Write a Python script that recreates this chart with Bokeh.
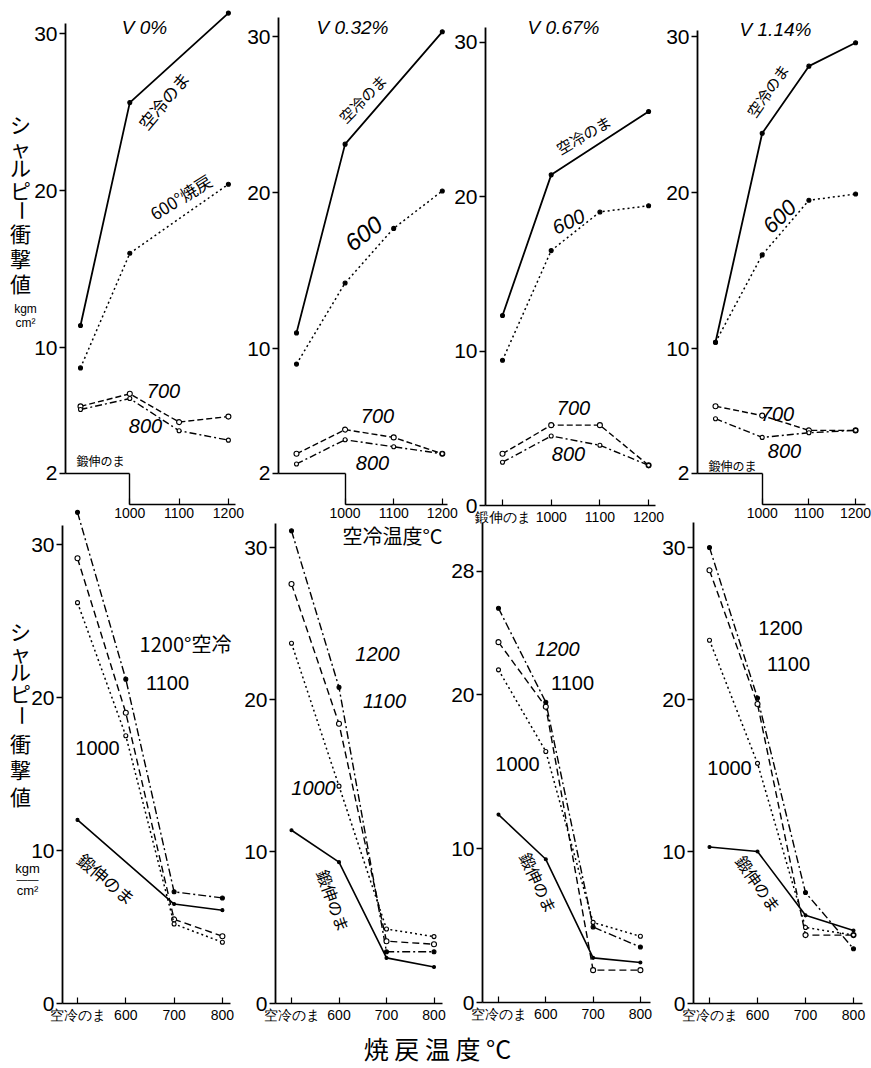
from bokeh.plotting import figure
from bokeh.models import Range1d, LinearAxis, FixedTicker, Label
from bokeh.embed import file_html
from bokeh.resources import INLINE

# ---------------- data ----------------
top_cats = ["鍛伸のま", "1000", "1100", "1200"]
bot_cats = ["空冷のま", "600", "700", "800"]
titles = ["V 0%", "V 0.32%", "V 0.67%", "V 1.14%"]

# upper row: Charpy value vs air-cooling temperature (one list per V content)
top_air = [[11.4, 25.6, None, 31.3], [11.0, 23.1, None, 30.3],
           [12.3, 21.4, None, 25.5], [10.4, 23.8, 28.1, 29.6]]
top_t600 = [[8.7, 16.0, None, 20.4], [9.0, 14.2, 17.7, 20.1],
            [9.4, 16.5, 19.0, 19.4], [10.4, 16.0, 19.5, 19.9]]
top_t700 = [[6.25, 7.05, 5.25, 5.6], [3.25, 4.8, 4.3, 3.25],
            [3.35, 5.2, 5.2, 2.6], [6.3, 5.7, 4.75, 4.75]]
top_t800 = [[6.05, 6.75, 4.7, 4.1], [2.6, 4.15, 3.7, 3.25],
            [2.8, 4.5, 3.9, 2.6], [5.5, 4.3, 4.6, 4.75]]

# lower row: Charpy value vs tempering temperature
bot_forged = [[12.0, None, 6.5, 6.1], [11.4, 9.3, 3.0, 2.4],
              [12.2, 9.3, 2.9, 2.6], [10.3, 10.0, 5.8, 4.8]]
bot_c1200 = [[32.1, 21.2, 7.3, 6.9], [31.1, 20.8, 3.4, 3.4],
             [25.6, 19.5, 4.9, 3.6], [30.0, 20.1, 7.3, 3.6]]
bot_c1100 = [[29.1, 19.0, 5.5, 4.4], [27.6, 18.4, 4.1, 3.9],
             [23.4, 19.2, 2.1, 2.1], [28.5, 19.7, 4.5, 4.5]]
bot_c1000 = [[26.2, 17.5, 5.2, 4.0], [23.7, 14.3, 4.9, 4.4],
             [21.6, 16.3, 5.2, 4.3], [23.9, 15.8, 5.0, 4.5]]

top_yticks = [[2, 10, 20, 30], [2, 10, 20, 30], [0, 10, 20, 30], [2, 10, 20, 30]]
bot_yticks = [[0, 10, 20, 30], [0, 10, 20, 30], [0, 10, 20, 28], [0, 10, 20, 30]]

# ---------------- layout (pixels) ----------------
W, H = 871, 1068
# ax: y-axis x px, x0: first category px, dx: category spacing, y0: value-0 px, dy: px per unit,
# top: axis top px, right: x-axis end px
top_lay = [dict(ax=65, x0=80, dx=49.3, y0=504, dy=15.7, top=23, right=235),
           dict(ax=278, x0=296, dx=48.6, y0=504, dy=15.6, top=17, right=447),
           dict(ax=485, x0=502, dx=48.7, y0=505, dy=15.45, top=27, right=655),
           dict(ax=697, x0=715, dx=46.7, y0=504, dy=15.6, top=30, right=865)]
bot_lay = [dict(ax=62, x0=77, dx=48.3, y0=1003, dy=15.3, top=525, right=230),
           dict(ax=275, x0=291, dx=47.5, y0=1003, dy=15.2, top=523, right=442),
           dict(ax=482, x0=498, dx=47.3, y0=1002, dy=15.4, top=522, right=650),
           dict(ax=693, x0=709, dx=48.0, y0=1003, dy=15.2, top=522, right=862)]

p = figure(width=W, height=H, x_range=Range1d(0, W), y_range=Range1d(H, 0),
           output_backend="svg", toolbar_location=None, min_border=0,
           x_axis_location=None, y_axis_location=None)
p.xgrid.visible = False
p.ygrid.visible = False
p.outline_line_color = None
p.background_fill_color = "white"

xr, yr = {}, {}
for i, L in enumerate(top_lay + bot_lay):
    n = f"p{i}"
    xr[n] = Range1d((0 - L["x0"]) / L["dx"], (W - L["x0"]) / L["dx"])
    yr[n] = Range1d((L["y0"] - H) / L["dy"], L["y0"] / L["dy"])
p.extra_x_ranges = xr
p.extra_y_ranges = yr

NUMF = "Liberation Sans"
JPF = "Noto Sans CJK JP"


def yaxis(n, loc, lo, hi, ticks, width=1.8):
    ax = LinearAxis(x_range_name=n, y_range_name=n, fixed_location=loc, bounds=(lo, hi),
                    ticker=FixedTicker(ticks=ticks, minor_ticks=[]),
                    axis_line_width=width, axis_line_color="black",
                    major_tick_line_color="black", major_tick_line_width=1.3,
                    major_tick_out=6, major_tick_in=0, major_label_standoff=2,
                    major_label_text_font=NUMF, major_label_text_font_size="21px",
                    major_label_text_color="black")
    if not ticks:
        ax.major_label_text_font_size = "0px"
    p.add_layout(ax, "left")


def xaxis(n, loc, lo, hi, ticks, labels, width=1.4):
    ax = LinearAxis(x_range_name=n, y_range_name=n, fixed_location=loc, bounds=(lo, hi),
                    ticker=FixedTicker(ticks=ticks, minor_ticks=[]),
                    axis_line_width=width, axis_line_color="black",
                    major_tick_line_color="black", major_tick_line_width=1.2,
                    major_tick_out=0, major_tick_in=6, major_label_standoff=3,
                    major_label_text_font=NUMF, major_label_text_font_size="14px",
                    major_label_text_color="black",
                    major_label_overrides={t: s for t, s in zip(ticks, labels)})
    if not ticks:
        ax.major_label_text_font_size = "0px"
    p.add_layout(ax, "below")


def series(n, vals, dash, width, marker_fill, size=5):
    xs = [i for i, v in enumerate(vals) if v is not None]
    ys = [v for v in vals if v is not None]
    p.line(xs, ys, x_range_name=n, y_range_name=n, line_color="black",
           line_width=width, line_dash=dash)
    p.scatter(xs, ys, x_range_name=n, y_range_name=n, size=size, line_color="black",
              line_width=1.1, fill_color=marker_fill)


# ---------------- upper row ----------------
for i, L in enumerate(top_lay):
    n = f"p{i}"
    loc = (L["ax"] - L["x0"]) / L["dx"]
    ytop = L["y0"] / L["dy"] - L["top"] / L["dy"]
    xend = (L["right"] - L["x0"]) / L["dx"]
    ticks = top_yticks[i]
    if ticks[0] == 2:
        yaxis(n, loc, 2, ytop, ticks)
        # stepped axis: as-forged block
        xaxis(n, 2, loc, 1, [], [])
        yaxis(n, 1, 0, 2, [], width=1.4)
        xaxis(n, 0, 1, xend, [1, 2, 3], top_cats[1:])
    else:
        yaxis(n, loc, 0, ytop, ticks)
        xaxis(n, 0, loc, xend, [0, 1, 2, 3], top_cats)
    series(n, top_air[i], "solid", 1.8, "black", 4)
    series(n, top_t600[i], "2 3", 1.5, "black", 4)
    series(n, top_t700[i], "6 3", 1.4, "white", 5)
    series(n, top_t800[i], "7 3 2 3", 1.4, "white", 4)

# ---------------- lower row ----------------
for i, L in enumerate(bot_lay):
    n = f"p{i + 4}"
    loc = (L["ax"] - L["x0"]) / L["dx"]
    ytop = L["y0"] / L["dy"] - L["top"] / L["dy"]
    xend = (L["right"] - L["x0"]) / L["dx"]
    yaxis(n, loc, 0, ytop, bot_yticks[i])
    xaxis(n, 0, loc, xend, [0, 1, 2, 3], bot_cats)
    series(n, bot_forged[i], "solid", 1.6, "black", 3)
    series(n, bot_c1200[i], "8 3 2 3", 1.4, "black", 4)
    series(n, bot_c1100[i], "7 4", 1.4, "white", 5)
    series(n, bot_c1000[i], "2 3", 1.5, "white", 4)


# ---------------- texts ----------------
def lab(x, y, text, size=16, angle=0, font=JPF, style="normal", align="center"):
    p.add_layout(Label(x=x, y=y, text=text, text_font=font, text_font_size=f"{size}px",
                       angle=angle, angle_units="deg", text_align=align,
                       text_baseline="middle", text_font_style=style, text_color="black"))


title_pos = [(144, 27), (352, 27), (563, 27), (775, 29)]
for (x, y), t in zip(title_pos, titles):
    lab(x, y, t, 19, font=NUMF, style="italic")

# curve labels, upper row
lab(163, 100, "空冷のま", 17, 50)
lab(180, 196, "600°焼戻", 17, 32)
lab(163, 390, "700", 20, font=NUMF, style="italic")
lab(145, 425, "800", 20, font=NUMF, style="italic")
lab(100, 460, "鍛伸のま", 12)

lab(362, 98, "空冷のま", 15, 45)
lab(363, 233, "600", 24, 38, font=NUMF, style="italic")
lab(377, 415, "700", 20, font=NUMF, style="italic")
lab(372, 462, "800", 20, font=NUMF, style="italic")

lab(583, 134, "空冷のま", 15, 30)
lab(568, 221, "600", 20, 25, font=NUMF, style="italic")
lab(573, 407, "700", 20, font=NUMF, style="italic")
lab(568, 453, "800", 20, font=NUMF, style="italic")

lab(767, 90, "空冷のま", 15, 55)
lab(779, 216, "600", 22, 45, font=NUMF, style="italic")
lab(777, 413, "700", 20, font=NUMF, style="italic")
lab(784, 450, "800", 20, font=NUMF, style="italic")
lab(732, 465, "鍛伸のま", 12)

lab(392, 535, "空冷温度°C", 20)

# curve labels, lower row
lab(185, 643, "1200°空冷", 20)
lab(167, 682, "1100", 20, font=NUMF)
lab(97, 747, "1000", 20, font=NUMF)
lab(106, 878, "鍛伸のま", 17, -40)

lab(377, 653, "1200", 20, font=NUMF, style="italic")
lab(384, 700, "1100", 20, font=NUMF, style="italic")
lab(313, 787, "1000", 20, font=NUMF, style="italic")
lab(333, 900, "鍛伸のま", 16, -70)

lab(557, 648, "1200", 20, font=NUMF, style="italic")
lab(572, 682, "1100", 20, font=NUMF)
lab(517, 763, "1000", 20, font=NUMF)
lab(538, 882, "鍛伸のま", 16, -65)

lab(780, 627, "1200", 20, font=NUMF)
lab(788, 663, "1100", 20, font=NUMF)
lab(729, 767, "1000", 20, font=NUMF)
lab(758, 883, "鍛伸のま", 16, -55)

# vertical y-axis titles
ylab = "シャルピー衝撃値"
top_y = [123, 146, 166, 189, 210, 232, 257, 282]
bot_y = [630, 651, 670, 692, 715, 742, 768, 795]
for ch, ty, by in zip(ylab, top_y, bot_y):
    ang = 90 if ch == "ー" else 0
    lab(20, ty, ch, 21, ang)
    lab(20, by, ch, 21, ang)
lab(25, 308, "kgm", 12, font=NUMF)
lab(25, 322, "cm²", 12, font=NUMF)
lab(27, 868, "kgm", 13, font=NUMF)
lab(27, 878, "——", 11, font=NUMF)
lab(27, 890, "cm²", 13, font=NUMF)

lab(437, 1047, "焼 戻 温 度 °C", 25)

open("out.html", "w").write(file_html(p, INLINE))
